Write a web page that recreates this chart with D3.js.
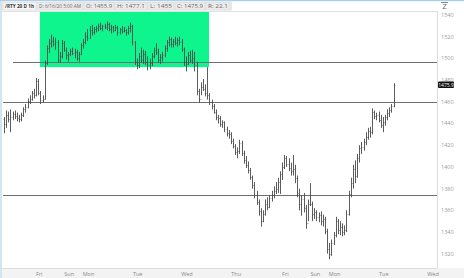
<!DOCTYPE html>
<html>
<head>
<meta charset="utf-8">
<script src="https://cdn.jsdelivr.net/npm/d3@7"></script>
<style>
  body { margin: 0; background: #fff; }
  svg { display: block; font-family: "Open Sans", "DejaVu Sans", sans-serif; }
</style>
</head>
<body>
<svg id="chart" width="464" height="278"></svg>
<script>
// hourly bars, /RTY 20 D 1h
const highs = [1446,1452,1451,1453,1451,1452,1450,1448,1450,1455,1458,1463,1466,1470,1472,1482,1481,1470,1466,1498,
  1512,1518,1522,1520,1519,1517,1506,1517,1516,1510,1506,1509,1510,1509,1508,1506,1514,1518,1524,1527,
  1530,1531,1529,1530,1532,1533,1531,1532,1534,1533,1531,1530,1531,1530,1528,1530,1529,1527,1530,1533,
  1531,1516,1500,1505,1510,1508,1507,1502,1500,1505,1510,1514,1509,1504,1506,1512,1517,1520,1519,1518,
  1520,1519,1520,1518,1510,1502,1506,1507,1508,1506,1497,1472,1478,1481,1476,1492,1468,1462,1458,1453,
  1448,1447,1443,1442,1437,1434,1432,1426,1421,1418,1425,1424,1415,1410,1405,1399,1392,1386,1378,1370,
  1362,1360,1370,1372,1374,1378,1382,1386,1390,1396,1404,1411,1410,1408,1404,1411,1402,1392,1380,1374,
  1376,1365,1370,1385,1368,1362,1360,1358,1359,1356,1354,1343,1330,1333,1340,1354,1352,1350,1348,1346,
  1360,1378,1390,1402,1406,1412,1420,1423,1426,1432,1436,1437,1454,1452,1450,1451,1448,1446,1448,1453,
  1455,1458,1477.1];
const lows = [1431,1436,1441,1432,1443,1444,1442,1441,1442,1446,1450,1454,1458,1461,1463,1465,1466,1458,1459,1462,
  1494,1505,1510,1511,1508,1496,1496,1500,1506,1499,1497,1502,1503,1500,1498,1497,1503,1509,1513,1516,
  1518,1521,1522,1524,1525,1526,1525,1527,1526,1525,1523,1524,1525,1521,1522,1523,1524,1521,1522,1524,
  1512,1494,1490,1491,1496,1495,1494,1489,1490,1493,1500,1503,1496,1495,1497,1501,1506,1511,1510,1510,
  1512,1511,1512,1506,1493,1488,1494,1496,1495,1488,1466,1459,1466,1470,1465,1462,1457,1453,1449,1443,
  1440,1437,1436,1432,1428,1426,1421,1417,1411,1408,1412,1410,1403,1399,1394,1388,1380,1371,1365,1355,
  1345,1349,1355,1360,1362,1368,1371,1375,1376,1375,1388,1398,1400,1396,1392,1392,1385,1372,1360,1355,
  1358,1343,1350,1364,1350,1352,1350,1349,1346,1345,1338,1320,1315,1318,1328,1335,1338,1337,1336,1337,
  1340,1355,1372,1380,1385,1390,1404,1412,1415,1420,1425,1427,1430,1444,1443,1441,1436,1432,1438,1443,
  1446,1450,1455];
const closes = [1440,1448,1444,1446,1449,1447,1445,1444,1448,1453,1455,1461,1463,1468,1466,1479,1468,1462,1463,1496,
  1510,1514,1516,1513,1515,1499,1502,1514,1508,1503,1504,1507,1505,1506,1500,1504,1512,1515,1521,1519,
  1526,1524,1527,1528,1530,1528,1530,1529,1532,1527,1529,1526,1529,1524,1527,1525,1526,1524,1528,1530,
  1515,1497,1494,1502,1499,1504,1497,1494,1496,1502,1508,1506,1499,1501,1503,1510,1515,1518,1513,1516,
  1514,1517,1515,1509,1497,1495,1503,1499,1500,1494,1470,1463,1474,1472,1468,1466,1460,1456,1451,1446,
  1445,1440,1441,1435,1431,1430,1424,1419,1414,1415,1422,1413,1406,1402,1397,1391,1383,1374,1368,1359,
  1350,1357,1366,1363,1371,1374,1378,1380,1386,1393,1400,1408,1403,1399,1396,1398,1390,1376,1366,1370,
  1362,1348,1366,1366,1357,1358,1354,1356,1350,1352,1341,1324,1320,1330,1337,1350,1342,1345,1340,1342,
  1357,1375,1385,1398,1392,1408,1417,1418,1423,1428,1433,1432,1451,1447,1448,1443,1439,1441,1446,1450,
  1452,1455.9,1475.9];
const firstOpen = 1444;

const dayNames = ["Fri", "Sun", "Mon", "Tue", "Wed", "Thu", "Fri", "Sun", "Mon", "Tue", "Wed"];
const dayStart = [16, 30, 39, 62, 85, 108, 131, 145, 154, 177, 200];

const priceTicks = [1320, 1340, 1360, 1380, 1400, 1420, 1440, 1460, 1480, 1500, 1520, 1540];
const levels = [1497, 1460, 1374];
const levelFrom = [4.2, -2, -2];
const zoneBars = [16.8, 95.8];
const zonePrices = [1492, 1542.8];

const header = {
  sym: "/RTY 20 D 1h",
  date: "D: 6/16/20 5:00 AM"
};

const opens = closes.map((c, i) => i === 0 ? firstOpen : closes[i - 1]);
const bars = closes.map((c, i) => ({ i, o: opens[i], h: highs[i], l: lows[i], c }));
const last = bars[bars.length - 1];

const W = 464, H = 278;
const plot = { left: 3, right: 437, top: 11, bottom: 268 };

const svg = d3.select("#chart");

const x = d3.scaleLinear().domain([0, bars.length - 1]).range([4, 393.5]);
const y = d3.scaleLinear().domain([1306.8, 1542.8]).range([268, 12]);

// frame
svg.append("rect").attr("x", 0).attr("y", 0).attr("width", W).attr("height", H).attr("fill", "#fff");
svg.append("rect").attr("x", 0).attr("y", 0).attr("width", 2).attr("height", H).attr("fill", "#d3e4f3");
svg.append("rect").attr("x", 0).attr("y", 0).attr("width", W).attr("height", 1.2).attr("fill", "#a9cff0");

// bottom strip
svg.append("rect").attr("x", 2).attr("y", plot.bottom).attr("width", W - 2).attr("height", H - plot.bottom)
  .attr("fill", "#f3f3f3");
svg.append("line").attr("x1", 2).attr("x2", plot.right).attr("y1", plot.bottom + 0.5).attr("y2", plot.bottom + 0.5)
  .attr("stroke", "#dcdcdc");
svg.append("line").attr("x1", plot.right + 0.5).attr("x2", plot.right + 0.5).attr("y1", plot.top).attr("y2", plot.bottom)
  .attr("stroke", "#dcdcdc");
svg.append("line").attr("x1", 2).attr("x2", plot.right).attr("y1", plot.top + 0.5).attr("y2", plot.top + 0.5)
  .attr("stroke", "#e2e2e2");

// green zone
svg.append("rect")
  .attr("x", x(zoneBars[0])).attr("width", x(zoneBars[1]) - x(zoneBars[0]))
  .attr("y", y(zonePrices[1])).attr("height", y(zonePrices[0]) - y(zonePrices[1]))
  .attr("fill", "#0ff58e");

// horizontal levels
svg.selectAll("line.level").data(levels).enter().append("line")
  .attr("class", "level")
  .attr("x1", (d, i) => Math.max(plot.left, x(levelFrom[i])))
  .attr("x2", plot.right)
  .attr("y1", d => Math.round(y(d)) + 0.5).attr("y2", d => Math.round(y(d)) + 0.5)
  .attr("stroke", "#707070").attr("stroke-width", 1.2);

// OHLC bars
const g = svg.append("g").attr("stroke", "#4a4a4a").attr("stroke-width", 0.9);
const px = d => Math.round(x(d.i)) + 0.5;
g.selectAll("line.hl").data(bars).enter().append("line")
  .attr("x1", px).attr("x2", px)
  .attr("y1", d => y(d.h)).attr("y2", d => y(d.l));
g.selectAll("line.op").data(bars).enter().append("line")
  .attr("x1", d => px(d) - 1).attr("x2", d => px(d))
  .attr("y1", d => Math.round(y(d.o)) + 0.5).attr("y2", d => Math.round(y(d.o)) + 0.5)
  .attr("stroke-opacity", 0.5);
g.selectAll("line.cl").data(bars).enter().append("line")
  .attr("x1", d => px(d)).attr("x2", d => px(d) + 1)
  .attr("y1", d => Math.round(y(d.c)) + 0.5).attr("y2", d => Math.round(y(d.c)) + 0.5)
  .attr("stroke-opacity", 0.5);

// price axis
svg.selectAll("text.price").data(priceTicks).enter().append("text")
  .attr("x", 441).attr("y", d => y(d)).attr("dy", "0.35em")
  .attr("font-size", 5.5).attr("fill", "#9a9a9a")
  .text(d => d);

// last price tag
const lp = y(last.c);
svg.append("rect").attr("x", 438).attr("y", lp - 3).attr("width", 16).attr("height", 6.5).attr("rx", 1)
  .attr("fill", "#111");
svg.append("text").attr("x", 446).attr("y", lp + 0.3).attr("dy", "0.35em").attr("text-anchor", "middle")
  .attr("font-size", 5).attr("fill", "#fff").text(last.c.toFixed(1));

// zoom icon
svg.append("text").attr("x", 444.5).attr("y", 9).attr("text-anchor", "middle")
  .attr("font-size", 8).attr("fill", "#666").text("Z");
svg.append("line").attr("x1", 441).attr("x2", 448).attr("y1", 2.5).attr("y2", 2.5).attr("stroke", "#888");

// day labels
svg.selectAll("text.day").data(dayNames).enter().append("text")
  .attr("x", (d, i) => x(dayStart[i]) + 1).attr("y", 275.5)
  .attr("text-anchor", "middle").attr("font-size", 5.5).attr("fill", "#8a8a8a")
  .text(d => d);

// header readout
const fields = [
  { t: header.sym, x: 3, w: 33, bold: true },
  { t: header.date, x: 37, w: 46 },
  { t: "O: " + last.o.toFixed(1), x: 84, w: 30 },
  { t: "H: " + last.h.toFixed(1), x: 115, w: 32 },
  { t: "L: " + last.l, x: 148, w: 26 },
  { t: "C: " + last.c.toFixed(1), x: 175, w: 30 },
  { t: "R: " + (last.h - last.l).toFixed(1), x: 206, w: 24 }
];
const hg = svg.append("g");
hg.append("rect").attr("x", 2).attr("y", 1.5).attr("width", 230).attr("height", 9).attr("fill", "#e9e9e9");
const cells = hg.selectAll("g").data(fields).enter().append("g");
cells.append("rect").attr("x", d => d.x).attr("y", 2.5).attr("width", d => d.w).attr("height", 7.5)
  .attr("fill", d => d.bold ? "#f7f7f7" : "#ececec")
  .attr("stroke", "#d6d6d6").attr("stroke-width", 0.5);
cells.append("text").attr("x", d => d.x + 2).attr("y", 8.3)
  .attr("font-size", 5.4).attr("fill", d => d.bold ? "#333" : "#666")
  .attr("font-weight", d => d.bold ? "bold" : "normal")
  .attr("textLength", d => d.w - 4).attr("lengthAdjust", "spacingAndGlyphs")
  .text(d => d.t);
</script>
</body>
</html>
